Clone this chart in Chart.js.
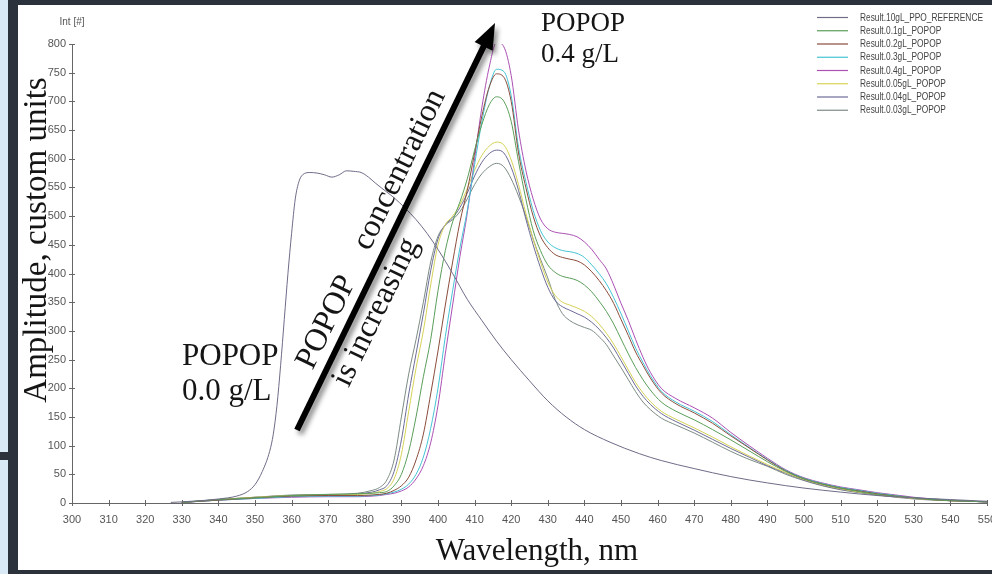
<!DOCTYPE html>
<html><head><meta charset="utf-8">
<script src="https://cdn.jsdelivr.net/npm/chart.js@4.4.0/dist/chart.umd.min.js"></script>
<style>
html,body{margin:0;padding:0;background:#2b323b;overflow:hidden}
#wrap{position:relative;width:992px;height:574px}
canvas{position:absolute;left:0;top:0}
</style></head>
<body><div id="wrap"><canvas id="c" width="992" height="574"></canvas></div>
<script>
// ---------- DATA ----------
const X_TICKS = [300,310,320,330,340,350,360,370,380,390,400,410,420,430,440,450,460,470,480,490,500,510,520,530,540,550];
const Y_TICKS = [0,50,100,150,200,250,300,350,400,450,500,550,600,650,700,750,800];

const SERIES_NAMES = ["Result.10gL_PPO_REFERENCE","Result.0.1gL_POPOP","Result.0.2gL_POPOP","Result.0.3gL_POPOP","Result.0.4gL_POPOP","Result.0.05gL_POPOP","Result.0.04gL_POPOP","Result.0.03gL_POPOP"];

const REF_WL = [327,330,335,340,345,348,350,352,354,355,356,357,358,359,360,361,362,363,365,367,369,371,373,375,377,379,381,383,386,388,391,394,397,400,404,408,412,416,420,425,430,435,440,447,455,461,470,480,490,500,510,520,530,540,550];
const REF    = [1,2,4,7,12,20,32,55,90,120,170,240,320,400,470,530,560,572,576,575,572,568,572,579,578,576,568,557,542,532,514,494,470,442,400,355,318,282,250,213,178,150,128,106,86,74,60,46,35,26,19,13,9,6,3];

const WL = [330,340,350,360,370,378,382,384,386,388,390,392,394,396,398,400,402,404,406,408,410,412,414,416,418,420,422,424,426,428,430,432,434,436,438,440,442,444,446,448,450,452,454,456,458,461,465,470,475,480,485,490,495,500,505,510,515,520,525,530,535,540,545,550];

const P01  = [1,6,9,13,15,16,17,18,20,30,50,90,150,220,285,370,440,490,525,565,615,660,694,708,700,665,595,530,475,440,415,402,395,392,388,380,368,352,334,312,286,260,236,215,197,176,160,145,128,110,91,72,55,42,33,26,20,15,12,9,6,4,3,2];
const P02  = [1,5,9,12,13,13,14,15,17,22,30,45,75,120,190,265,345,420,490,545,610,675,725,748,742,700,610,550,500,465,445,433,428,425,422,415,403,388,370,348,320,292,263,240,218,192,173,157,139,117,96,75,56,42,33,26,21,16,12,9,6,4,3,2];
const P03  = [1,5,8,11,12,12,13,14,16,19,24,33,50,80,130,200,290,370,445,510,590,665,725,756,752,710,620,560,510,475,455,445,440,438,435,428,415,400,382,358,330,300,270,245,222,195,176,160,142,119,97,76,57,43,34,27,22,17,13,9,7,5,3,2];
const P04  = [1,5,8,10,11,11,12,13,15,17,21,28,42,65,105,170,260,345,430,505,600,690,760,803,795,745,650,580,530,495,478,472,470,468,464,455,442,425,408,380,348,318,285,254,228,200,182,166,148,123,100,78,58,44,35,28,23,18,14,10,7,5,3,2];
const P005 = [1,6,10,13,14,15,17,20,25,42,85,160,235,300,380,450,485,500,520,548,580,606,622,629,624,598,555,505,460,420,385,362,350,345,340,334,325,312,296,277,255,232,210,192,177,160,146,131,115,98,82,67,53,41,32,25,19,15,11,8,6,4,3,2];
const P004 = [1,6,10,13,14,16,19,23,30,55,110,190,260,330,405,460,485,497,515,540,570,594,609,615,610,585,545,495,450,410,376,353,342,336,330,324,315,303,288,270,248,226,204,186,172,156,142,127,111,95,80,65,52,40,31,24,19,14,11,8,6,4,3,2];
const P003 = [1,6,10,14,15,17,22,27,40,75,150,225,285,350,420,465,484,494,508,530,555,574,586,592,586,565,535,500,460,425,392,355,330,318,311,306,301,290,276,256,236,215,194,176,163,148,136,122,106,90,76,64,50,39,30,23,18,14,10,7,5,4,3,2];

const COLORS = ["#6f6c88","#5a9e5a","#8c4c3c","#45c4d4","#ac50b4","#d6d258","#6c6c98","#7c8c84"];

// ---------- helpers ----------
const pts = (xs, ys) => xs.map((x, i) => ({x: x, y: ys[i]}));
const SERIES_DATA = [pts(REF_WL, REF), pts(WL, P01), pts(WL, P02), pts(WL, P03), pts(WL, P04), pts(WL, P005), pts(WL, P004), pts(WL, P003)];

const TICK_FONT = "'Liberation Sans Narrow','Arial Narrow','Liberation Sans',sans-serif";
const SERIF = "'Liberation Serif','Times New Roman',serif";

const bgPlugin = {
  id: 'bg',
  beforeDraw(chart) {
    const c = chart.ctx;
    c.save();
    c.fillStyle = '#2b323b'; c.fillRect(0, 0, 992, 574);
    c.fillStyle = '#d9e9f6'; c.fillRect(0, 0, 8, 452); c.fillRect(0, 460, 8, 114);
    c.fillStyle = '#ffffff'; c.fillRect(18, 5, 974, 565);
    c.restore();
  }
};

const ticksPlugin = {
  id: 'tickmarks',
  afterDraw(chart) {
    const c = chart.ctx, xs = chart.scales.x, ys = chart.scales.y;
    c.save();
    c.strokeStyle = '#666'; c.lineWidth = 1;
    c.beginPath();
    Y_TICKS.forEach(v => { const y = Math.round(ys.getPixelForValue(v)) + 0.5; c.moveTo(xs.left - 3, y); c.lineTo(xs.left + 3, y); });
    X_TICKS.forEach(v => { const x = Math.round(xs.getPixelForValue(v)) + 0.5; c.moveTo(x, ys.bottom - 3); c.lineTo(x, ys.bottom + 3); });
    c.stroke();
    c.fillStyle = '#555'; c.font = "10px " + TICK_FONT; c.textAlign = 'center'; c.textBaseline = 'middle';
    c.fillText('Int [#]', 72, 22);
    c.restore();
  }
};

const legendPlugin = {
  id: 'mylegend',
  afterDraw(chart) {
    const c = chart.ctx;
    c.save();
    c.font = "11px " + TICK_FONT;
    const w0 = c.measureText(SERIES_NAMES[0]).width;
    const sx = 123 / w0;
    chart.data.datasets.forEach((ds, i) => {
      const y = 17.5 + i * 13.25;
      c.strokeStyle = ds.borderColor; c.lineWidth = 1.2;
      c.beginPath(); c.moveTo(817, y); c.lineTo(848, y); c.stroke();
      c.save();
      c.translate(860, y); c.scale(sx, 1);
      c.fillStyle = '#444'; c.textAlign = 'left'; c.textBaseline = 'middle';
      c.fillText(ds.label, 0, 0);
      c.restore();
    });
    c.restore();
  }
};

const annotPlugin = {
  id: 'annot',
  afterDraw(chart) {
    const c = chart.ctx;
    c.save();
    c.fillStyle = '#151515';
    c.textAlign = 'center'; c.textBaseline = 'alphabetic';
    c.font = "31px " + SERIF;
    c.fillText('Wavelength, nm', 537, 560);
    c.font = "33px " + SERIF;
    c.save(); c.translate(46, 240); c.rotate(-Math.PI / 2);
    c.fillText('Amplitude, custom units', 0, 0);
    c.restore();

    c.textAlign = 'left';
    c.font = "27px " + SERIF;
    c.fillText('POPOP', 541, 31);
    c.fillText('0.4 g/L', 541, 62);
    c.font = "31px " + SERIF;
    c.fillText('POPOP', 182, 365);
    c.fillText('0.0 g/L', 182, 400);

    const S = {x: 297, y: 430}, T = {x: 495, y: 23};
    const dx = T.x - S.x, dy = T.y - S.y, L = Math.hypot(dx, dy);
    const ux = dx / L, uy = dy / L, nx = -uy, ny = ux;
    const hl = 26, hw = 10;
    const bx = T.x - ux * hl, by = T.y - uy * hl;
    c.save();
    c.shadowColor = 'rgba(0,0,0,0.45)'; c.shadowBlur = 5; c.shadowOffsetX = 3; c.shadowOffsetY = 4;
    c.strokeStyle = '#000'; c.fillStyle = '#000'; c.lineWidth = 6; c.lineCap = 'butt';
    c.beginPath(); c.moveTo(S.x, S.y); c.lineTo(bx + ux * 2, by + uy * 2); c.stroke();
    c.beginPath(); c.moveTo(T.x, T.y); c.lineTo(bx + nx * hw, by + ny * hw); c.lineTo(bx - nx * hw, by - ny * hw); c.closePath(); c.fill();
    c.restore();

    c.save();
    c.translate(S.x, S.y); c.rotate(Math.atan2(dy, dx));
    c.fillStyle = '#151515'; c.font = "32px " + SERIF; c.textAlign = 'left'; c.textBaseline = 'alphabetic';
    c.fillText('POPOP', 60, -12);
    c.fillText('concentration', 192, -13);
    c.fillText('is increasing', 60, 28);
    c.restore();
    c.restore();
  }
};

new Chart(document.getElementById('c'), {
  type: 'line',
  data: {
    datasets: SERIES_DATA.map((d, i) => ({
      label: SERIES_NAMES[i], data: d, borderColor: COLORS[i], backgroundColor: COLORS[i],
      borderWidth: 1, pointRadius: 0, fill: false, cubicInterpolationMode: 'monotone'
    }))
  },
  options: {
    responsive: false, animation: false, devicePixelRatio: 1,
    layout: {padding: {left: 0, right: 5, top: 44, bottom: 0}},
    plugins: {legend: {display: false}, tooltip: {enabled: false}},
    scales: {
      x: {
        type: 'linear', min: 300, max: 550,
        afterBuildTicks: s => { s.ticks = X_TICKS.map(v => ({value: v})); },
        afterFit: s => { s.height = 71; s.paddingLeft = 0; s.paddingRight = 0; },
        ticks: {autoSkip: false, maxRotation: 0, minRotation: 0, padding: 10, color: '#555', font: {family: TICK_FONT, size: 11}},
        grid: {display: false, drawTicks: false},
        border: {display: true, color: '#666', width: 1}
      },
      y: {
        type: 'linear', min: 0, max: 800,
        afterBuildTicks: s => { s.ticks = Y_TICKS.map(v => ({value: v})); },
        afterFit: s => { s.width = 72; s.paddingTop = 0; s.paddingBottom = 0; },
        ticks: {autoSkip: false, padding: 6, color: '#555', font: {family: TICK_FONT, size: 11}},
        grid: {display: false, drawTicks: false},
        border: {display: true, color: '#666', width: 1}
      }
    }
  },
  plugins: [bgPlugin, ticksPlugin, legendPlugin, annotPlugin]
});
</script>
</body></html>
